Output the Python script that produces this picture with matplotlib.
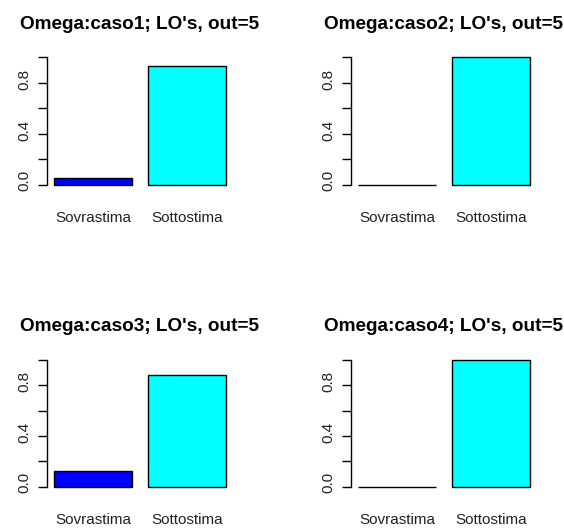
import numpy as np
import matplotlib.pyplot as plt
from matplotlib.transforms import ScaledTranslation

plt.rcParams['font.family'] = ['Liberation Sans', 'DejaVu Sans']

# proportions of over/under estimation for each scenario
categories = ['Sovrastima', 'Sottostima']
titles = ["Omega:caso1; LO's, out=5", "Omega:caso2; LO's, out=5",
          "Omega:caso3; LO's, out=5", "Omega:caso4; LO's, out=5"]
caso1 = [0.055, 0.935]
caso2 = [0.0, 1.0]
caso3 = [0.12, 0.88]
caso4 = [0.0, 1.0]
values = [caso1, caso2, caso3, caso4]
bar_colors = ['#0000FF', '#00FFFF']

W, H = 564, 528
fig = plt.figure(figsize=(W / 100, H / 100), dpi=100)
fig.patch.set_facecolor('white')

# axes boxes in pixels: left, top, right, bottom
boxes = [(47, 52.4, 233, 190), (351, 52.4, 537, 190),
         (47, 355, 233, 491.7), (351, 355, 537, 491.7)]

# R barplot layout: width 1, space 0.2
xpos = np.array([0.7, 1.9])
nudge = ScaledTranslation(0, 4 / 100, fig.dpi_scale_trans)

for box, title, vals in zip(boxes, titles, values):
    l, t, r, b = box
    ax = fig.add_axes([l / W, 1 - b / H, (r - l) / W, (b - t) / H])
    ax.bar(xpos, vals, width=1.0, color=bar_colors, edgecolor='black',
           linewidth=1.0)
    ax.set_xlim(0.112, 2.488)
    ax.set_ylim(-0.04, 1.04)
    for s in ['top', 'right', 'bottom']:
        ax.spines[s].set_visible(False)
    ax.spines['left'].set_bounds(0, 1)
    ax.spines['left'].set_linewidth(1.0)
    ax.set_yticks([0, 0.2, 0.4, 0.6, 0.8, 1.0])
    ax.set_yticklabels(['0.0', '', '0.4', '', '0.8', ''], fontsize=11,
                       color='#222222')
    ax.tick_params(axis='y', length=6.5, width=1.0, pad=4.5, labelrotation=90)
    for lab in ax.get_yticklabels():
        lab.set_va('center')
        lab.set_transform(lab.get_transform() + nudge)
    ax.set_xticks(xpos)
    ax.set_xticklabels(categories, fontsize=11, color='#222222')
    ax.tick_params(axis='x', length=0, pad=15)
    ax.set_title(title, fontsize=13.7, fontweight='bold', pad=17)

fig.savefig('out.png', dpi=100, facecolor='white')
